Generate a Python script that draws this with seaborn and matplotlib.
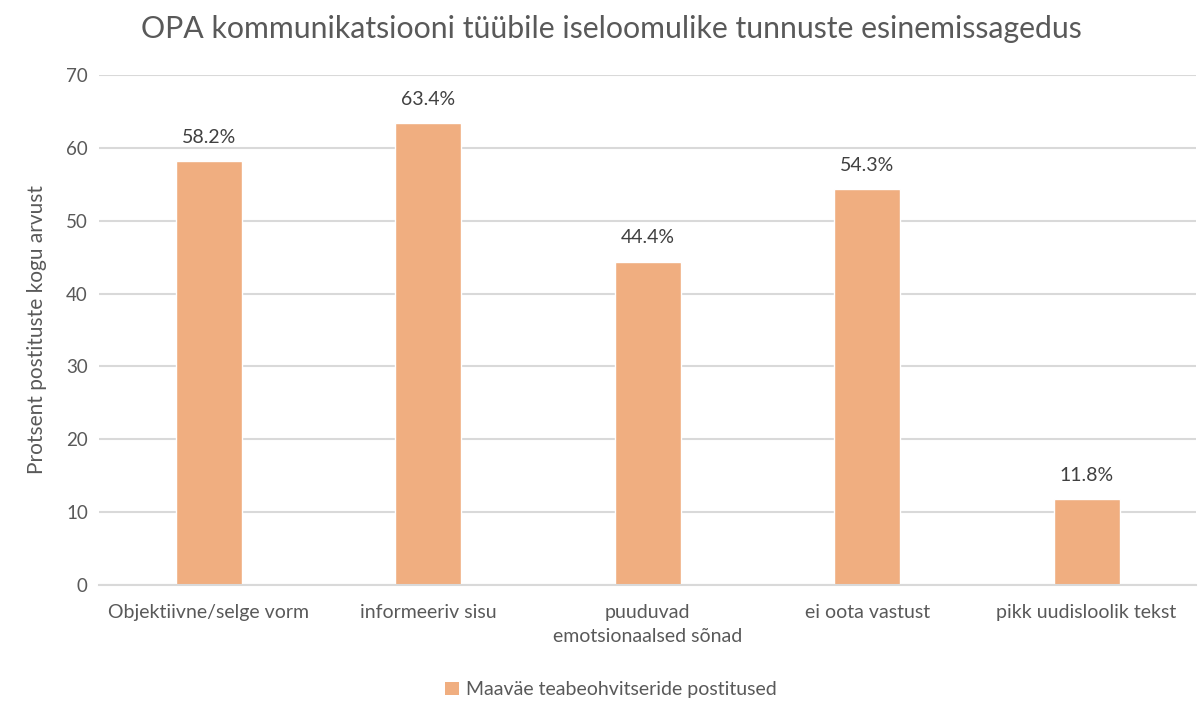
import matplotlib
matplotlib.use("Agg")
import matplotlib.pyplot as plt
import seaborn as sns
import pandas as pd
from matplotlib.patches import Patch

categories = ["Objektiivne/selge vorm", "informeeriv sisu", "puuduvad\nemotsionaalsed sõnad",
              "ei oota vastust", "pikk uudisloolik tekst"]
values = [58.2, 63.4, 44.4, 54.3, 11.8]
labels = ["58.2%", "63.4%", "44.4%", "54.3%", "11.8%"]
series_name = "Maaväe teabeohvitseride postitused"
yticks = [0, 10, 20, 30, 40, 50, 60, 70]

sns.set_theme(style="white")
plt.rcParams['font.family'] = ['Lato', 'DejaVu Sans']

color = "#F0AE80"
text_color = "#595959"

df = pd.DataFrame({"cat": categories, "val": values})

fig = plt.figure(figsize=(11.98, 7.01), dpi=100)
ax = fig.add_axes([0.0826, 0.1655, 0.916, 0.7275])
sns.barplot(data=df, x="cat", y="val", color=color, width=0.3, saturation=1, ax=ax)

ax.set_ylim(0, 70)
ax.set_yticks(yticks)
ax.yaxis.grid(True, color="#D9D9D9", linewidth=1.5)
ax.set_axisbelow(True)
for s in ["top", "right", "left"]:
    ax.spines[s].set_visible(False)
ax.spines["bottom"].set_color("#D9D9D9")
ax.spines["bottom"].set_linewidth(1.5)
ax.tick_params(axis="y", length=0, colors=text_color, labelsize=13.5, pad=8)
ax.tick_params(axis="x", length=0, colors=text_color, labelsize=14, pad=14)
for t in ax.get_xticklabels():
    t.set_linespacing(1.5)
ax.set_xlabel("")
ax.set_ylabel("Protsent postituste kogu arvust", color=text_color, fontsize=15, labelpad=14)

for p, lab in zip(ax.patches, labels):
    ax.annotate(lab, (p.get_x() + p.get_width() / 2, p.get_height()),
                xytext=(0, 11), textcoords="offset points", ha="center", va="bottom",
                fontsize=14, color="#404040")

fig.suptitle("OPA kommunikatsiooni tüübile iseloomulike tunnuste esinemissagedus",
             x=0.51, y=0.978, fontsize=21.8, color=text_color)

handle = Patch(facecolor=color, edgecolor="none")
fig.legend([handle], [series_name], loc="center", bbox_to_anchor=(0.51, 0.016),
           frameon=False, fontsize=14, labelcolor=text_color, handlelength=0.7,
           handleheight=0.7, handletextpad=0.4)

fig.savefig("out.png", dpi=100)
